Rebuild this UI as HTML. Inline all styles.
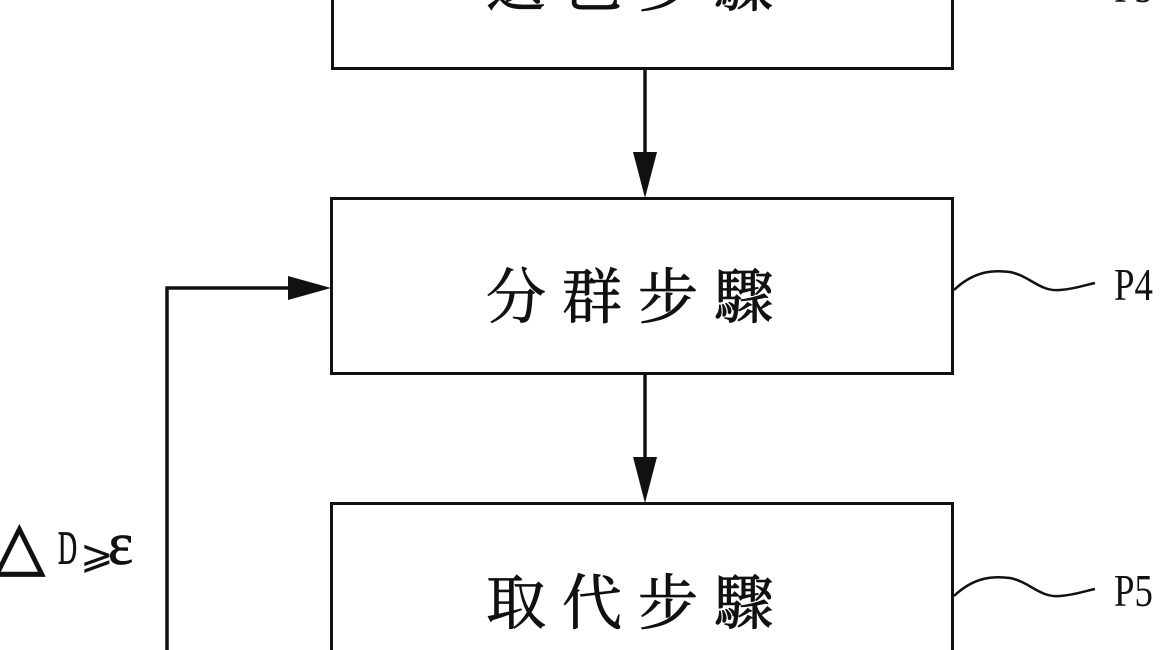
<!DOCTYPE html>
<html><head><meta charset="utf-8"><style>
html,body{margin:0;background:#fff;overflow:hidden;width:1170px;height:650px;}
.wrap{position:relative;width:1170px;height:650px;overflow:hidden;background:#fff;}
.box{position:absolute;border:3px solid #111;box-sizing:border-box;}
.t{position:absolute;font-family:"Liberation Serif","Noto Serif CJK SC","Noto Sans CJK TC",serif;font-size:60px;letter-spacing:16px;color:#111;white-space:nowrap;-webkit-text-stroke:0.8px #111;}
.p{position:absolute;font-family:"Liberation Serif",serif;font-size:46px;color:#111;transform:scaleX(0.8);transform-origin:left;}
</style></head><body><div class="wrap">
<div class="box" style="left:331px;top:-120px;width:623px;height:190px"></div>
<div class="box" style="left:330px;top:197px;width:624px;height:178px"></div>
<div class="box" style="left:330px;top:502px;width:624px;height:160px;border-bottom:none"></div>
<div class="t" style="left:486px;top:-62px">選色步驟</div>
<div class="t" style="left:486px;top:250px">分群步驟</div>
<div class="t" style="left:486px;top:556px">取代步驟</div>
<div class="p" style="left:1114px;top:-40px">P3</div>
<div class="p" style="left:1114px;top:258px">P4</div>
<div class="p" style="left:1114px;top:564px">P5</div>
<svg width="1170" height="650" style="position:absolute;left:0;top:0">
<g stroke="#111" stroke-width="3.5" fill="none">
<line x1="645" y1="70" x2="645" y2="160"/>
<line x1="645" y1="375" x2="645" y2="465"/>
<polyline points="167,650 167,288 295,288"/>
<path d="M954,290 C975,270 995,270 1010,272 C1030,276 1040,292 1060,290 C1075,289 1085,285 1095,283" stroke-width="2.5"/>
<path d="M954,596 C975,576 995,576 1010,578 C1030,582 1040,598 1060,596 C1075,595 1085,591 1095,589" stroke-width="2.5"/>
</g>
<g fill="#111">
<polygon points="633,152 657,152 645,198"/>
<polygon points="633,457 657,457 645,503"/>
<polygon points="288,276 288,300 331,288"/>
</g>
<g font-family="DejaVu Sans, Liberation Serif, serif" fill="#111">
<text x="-6" y="568" font-size="66" stroke="#111" stroke-width="1.5">△</text>
<text x="58" y="564" font-family="Liberation Serif" font-size="48" stroke="#111" stroke-width="0.8" transform="translate(58,0) scale(0.55,1) translate(-58,0)">D</text>
<text x="80" y="568" font-size="40">⩾</text>
<text x="108" y="564" font-family="Liberation Serif" font-size="60" stroke="#111" stroke-width="0.8">ε</text>
</g>
</svg>
</div></body></html>
